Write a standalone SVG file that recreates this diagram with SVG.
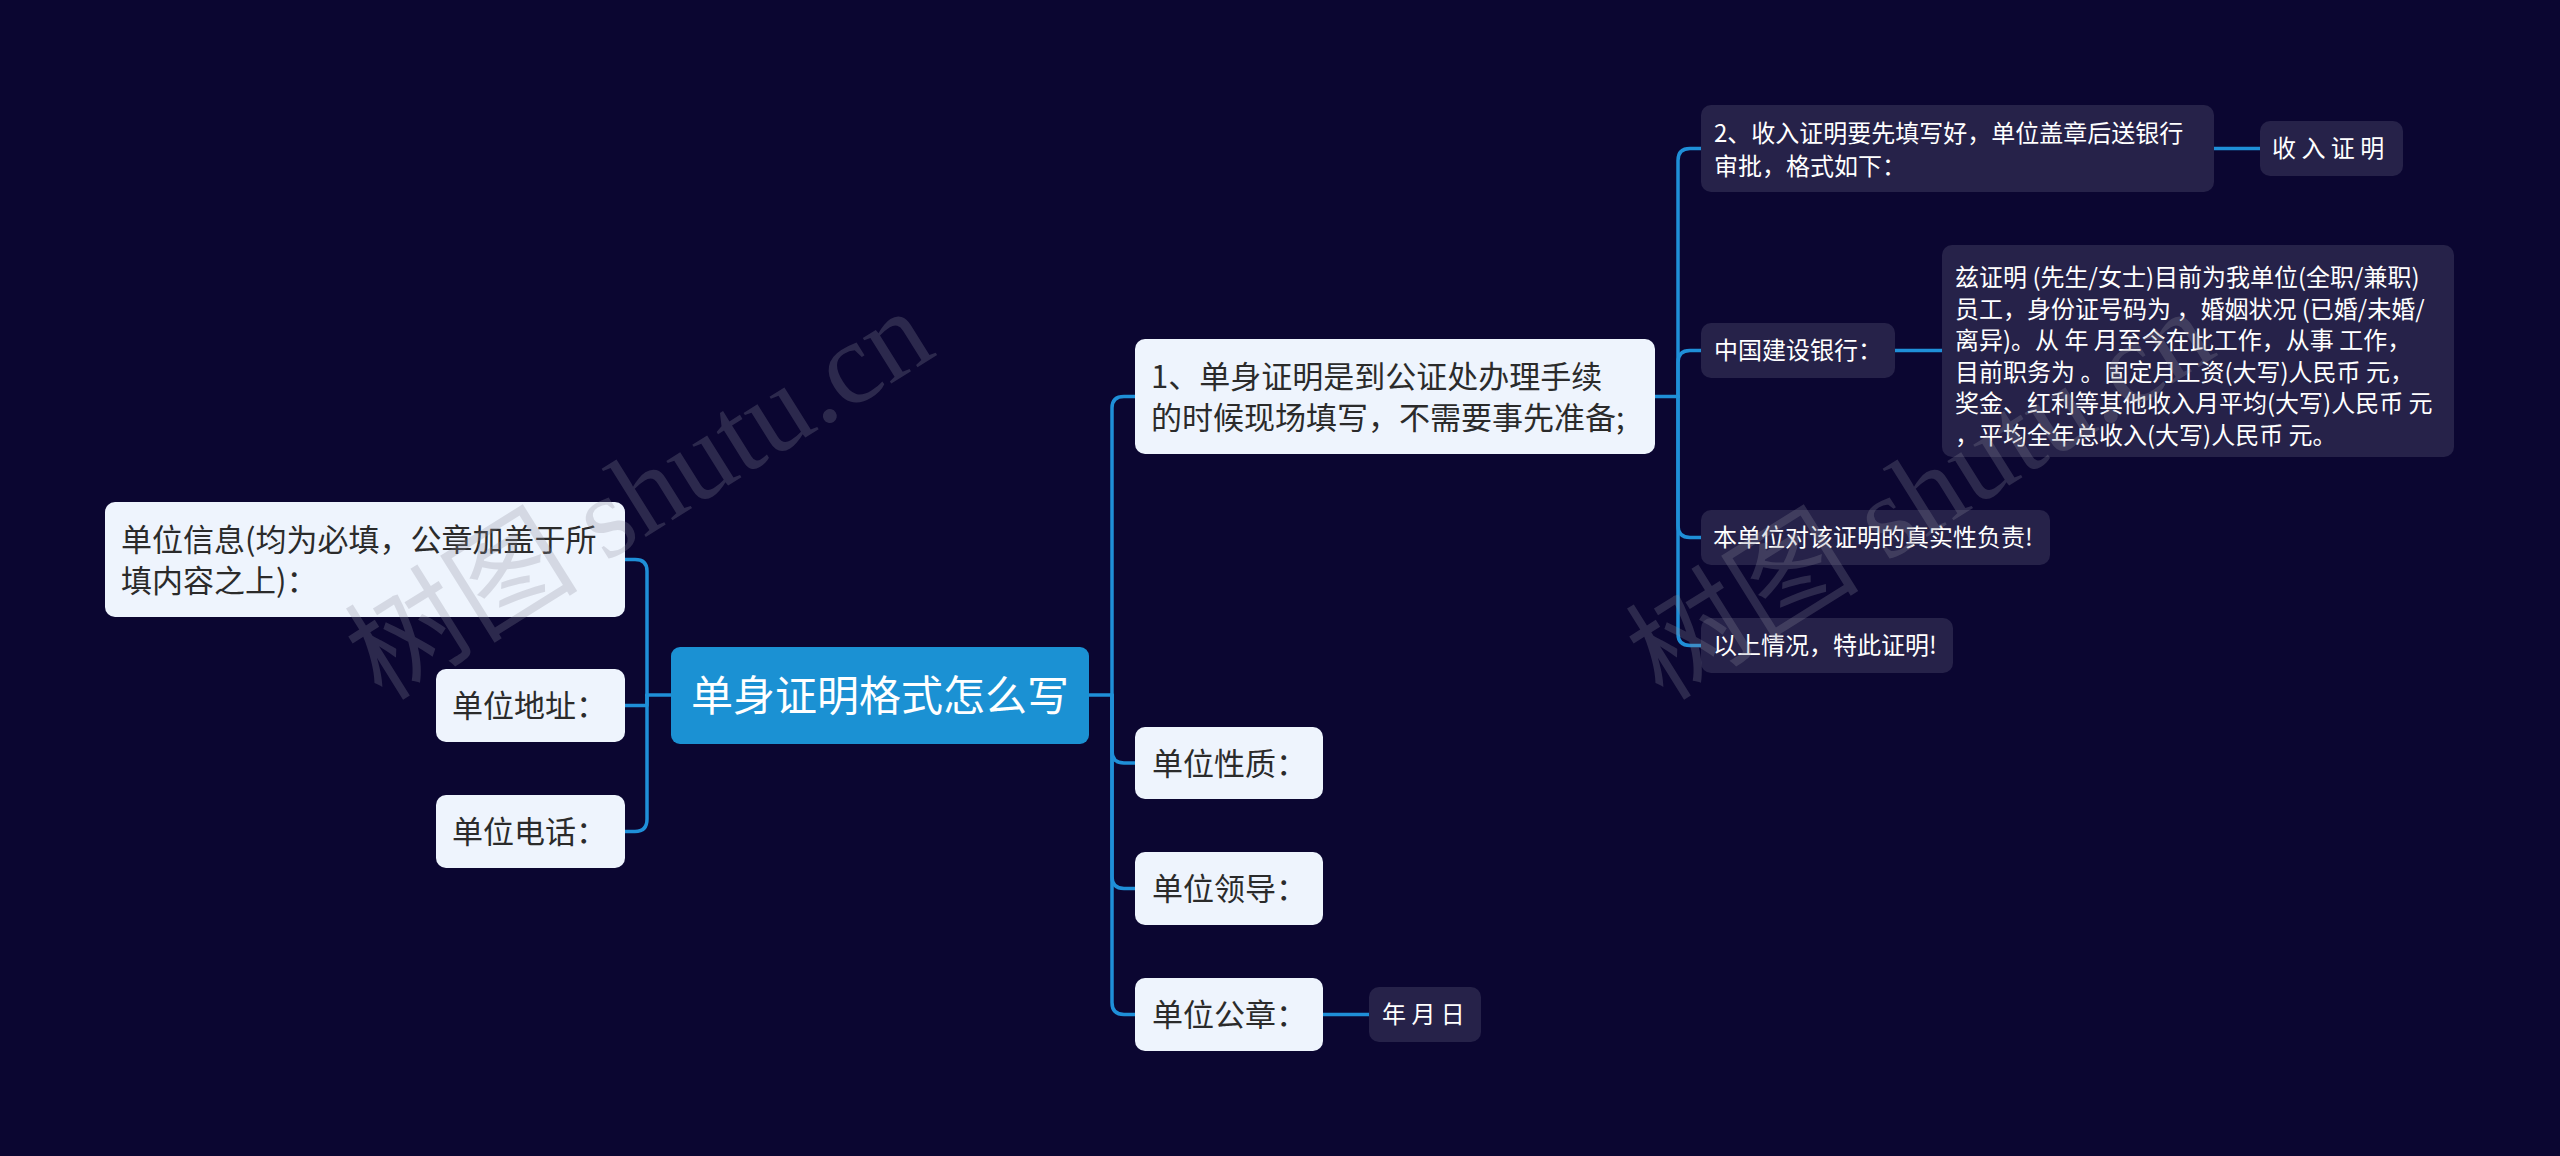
<svg xmlns="http://www.w3.org/2000/svg" width="2560" height="1156" viewBox="0 0 2560 1156">
<style>
text{font-family:"Noto Sans CJK SC","Noto Sans",sans-serif;}
.lt{fill:#eef4fd;}
.dk{fill:#262249;}
.root{fill:#1b91d3;}
.tl{fill:#2b2b2b;font-size:31px;}
.tw{fill:#ffffff;font-size:24px;}
.tr{fill:#ffffff;font-size:42px;}
.c{fill:none;stroke:#1f8fd8;stroke-width:3.5;stroke-linecap:round;stroke-linejoin:round;}
.wm{fill:#8c8c9c;opacity:0.26;font-family:"Liberation Serif","Noto Sans CJK SC",serif;font-size:117px;}
</style>
<rect width="2560" height="1156" fill="#0b0631"/>
<g id="connectors">
<path class="c" d="M672,695 H647"/>
<path class="c" d="M647,695 V571 Q647,559.5 635,559.5 H625"/>
<path class="c" d="M647,695 V705.5 H625"/>
<path class="c" d="M647,695 V819 Q647,831.5 635,831.5 H625"/>
<path class="c" d="M1089,695 H1112"/>
<path class="c" d="M1112,695 V408 Q1112,396.5 1124,396.5 H1135"/>
<path class="c" d="M1112,695 V751 Q1112,763 1124,763 H1135"/>
<path class="c" d="M1112,695 V876.5 Q1112,888.5 1124,888.5 H1135"/>
<path class="c" d="M1112,695 V1002.5 Q1112,1014.5 1124,1014.5 H1135"/>
<path class="c" d="M1323,1014.5 H1369"/>
<path class="c" d="M1655,396.5 H1678"/>
<path class="c" d="M1678,396.5 V160.5 Q1678,148.5 1690,148.5 H1701"/>
<path class="c" d="M1678,396.5 V362.5 Q1678,350.5 1690,350.5 H1701"/>
<path class="c" d="M1678,396.5 V525.5 Q1678,537.5 1690,537.5 H1701"/>
<path class="c" d="M1678,396.5 V633.5 Q1678,645.5 1690,645.5 H1701"/>
<path class="c" d="M2214,148.5 H2260"/>
<path class="c" d="M1895,350.5 H1942"/>
</g>
<g id="root">
<rect class="root" x="671" y="647" width="418" height="97" rx="9"/>
<text class="tr" x="880" y="711" text-anchor="middle">单身证明格式怎么写</text>
</g>
<g id="n-info">
<rect class="lt" x="105" y="502" width="520" height="115" rx="10"/>
<text class="tl" x="121" y="551">单位信息(均为必填，公章加盖于所</text>
<text class="tl" x="121" y="592">填内容之上)：</text>
</g>
<g id="n-addr">
<rect class="lt" x="436" y="669" width="189" height="73" rx="10"/>
<text class="tl" x="452" y="717">单位地址：</text>
</g>
<g id="n-tel">
<rect class="lt" x="436" y="795" width="189" height="73" rx="10"/>
<text class="tl" x="452" y="843">单位电话：</text>
</g>
<g id="n-1">
<rect class="lt" x="1135" y="339" width="520" height="115" rx="10"/>
<text class="tl" x="1151" y="388">1、单身证明是到公证处办理手续</text>
<text class="tl" x="1151" y="429">的时候现场填写，不需要事先准备;</text>
</g>
<g id="n-nature">
<rect class="lt" x="1135" y="727" width="188" height="72" rx="10"/>
<text class="tl" x="1152" y="775">单位性质：</text>
</g>
<g id="n-leader">
<rect class="lt" x="1135" y="852" width="188" height="73" rx="10"/>
<text class="tl" x="1152" y="900">单位领导：</text>
</g>
<g id="n-seal">
<rect class="lt" x="1135" y="978" width="188" height="73" rx="10"/>
<text class="tl" x="1152" y="1026">单位公章：</text>
</g>
<g id="n-date">
<rect class="dk" x="1369" y="987" width="112" height="55" rx="10"/>
<text class="tw" x="1382" y="1023">年 月 日</text>
</g>
<g id="n-2">
<rect class="dk" x="1701" y="105" width="513" height="87" rx="10"/>
<text class="tw" x="1714" y="142">2、收入证明要先填写好，单位盖章后送银行</text>
<text class="tw" x="1714" y="175">审批，格式如下：</text>
</g>
<g id="n-income">
<rect class="dk" x="2260" y="121" width="143" height="55" rx="10"/>
<text class="tw" x="2272" y="157">收 入 证 明</text>
</g>
<g id="n-bank">
<rect class="dk" x="1701" y="323" width="194" height="55" rx="10"/>
<text class="tw" x="1714" y="359">中国建设银行：</text>
</g>
<g id="n-bank-text">
<rect class="dk" x="1942" y="245" width="512" height="212" rx="10"/>
<text class="tw" x="1955" y="286">兹证明 (先生/女士)目前为我单位(全职/兼职)</text>
<text class="tw" x="1955" y="317.6">员工，身份证号码为 ，婚姻状况 (已婚/未婚/</text>
<text class="tw" x="1955" y="349.2">离异)。从 年 月至今在此工作，从事 工作，</text>
<text class="tw" x="1955" y="380.8">目前职务为 。固定月工资(大写)人民币 元，</text>
<text class="tw" x="1955" y="412.4">奖金、红利等其他收入月平均(大写)人民币 元</text>
<text class="tw" x="1955" y="444">，平均全年总收入(大写)人民币 元。</text>
</g>
<g id="n-resp">
<rect class="dk" x="1701" y="510" width="349" height="55" rx="10"/>
<text class="tw" x="1713" y="546">本单位对该证明的真实性负责!</text>
</g>
<g id="n-end">
<rect class="dk" x="1701" y="618" width="252" height="55" rx="10"/>
<text class="tw" x="1713" y="654">以上情况，特此证明!</text>
</g>
<g id="watermark">
<text class="wm" transform="translate(382,702) rotate(-32)">树图 shutu.cn</text>
<text class="wm" transform="translate(1663,702) rotate(-32)">树图 shutu.cn</text>
</g>
</svg>
